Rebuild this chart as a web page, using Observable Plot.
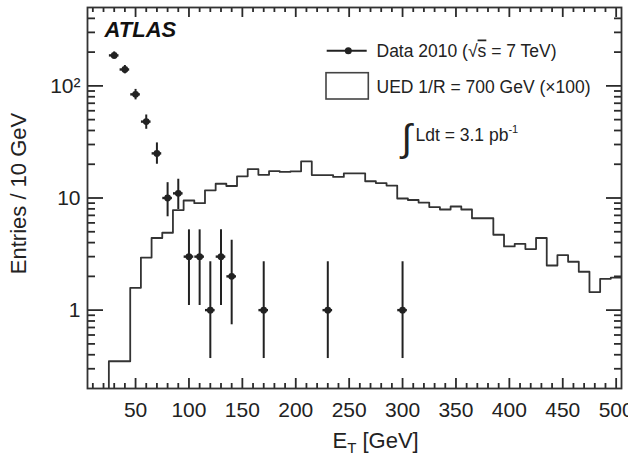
<!DOCTYPE html>
<html><head><meta charset="utf-8">
<script src="https://cdn.jsdelivr.net/npm/d3@7"></script>
<script src="https://cdn.jsdelivr.net/npm/@observablehq/plot@0.6"></script>
<style>body{margin:0;background:#fff;}</style>
</head><body><div id="chart"></div>
<script>
// ---- Data 2010 points ----
const dataET = [30, 40, 50, 60, 70, 80, 90, 100, 110, 120, 130, 140, 170, 230, 300];
const dataEntries = [187, 140, 84, 48, 25, 10, 11, 3, 3, 1, 3, 2, 1, 1, 1];
const dataErrLow = [173, 128, 75, 41, 20, 6.8, 7.9, 1.1, 1.1, 0.37, 1.1, 0.74, 0.37, 0.37, 0.37];
const dataErrHigh = [201, 152, 93, 55, 31, 13.7, 14.7, 5.2, 5.2, 2.7, 5.2, 4.2, 2.7, 2.7, 2.7];

// ---- UED 1/R = 700 GeV (x100) histogram, 10 GeV bins ----
const uedBinCenters = d3.range(30, 501, 10);
const uedEntries = [0.35, 0.35, 1.58, 2.94, 4.4, 4.9, 7.8, 9.5, 9.0, 11.7,
  13.4, 12.8, 15.6, 18.1, 16.1, 17.4, 17.1, 17.3, 21.2, 16.0,
  16.0, 15.4, 16.6, 16.6, 14.1, 13.6, 12.9, 9.9, 9.6, 9.1,
  8.3, 7.9, 8.4, 7.9, 6.6, 6.6, 4.7, 3.7, 3.9, 3.5,
  4.4, 2.5, 3.1, 2.7, 2.2, 1.45, 1.9, 1.95];
const binHalfWidth = 5;

// ---- Axes ----
const xDomain = [5, 505];
const yDomain = [0.2, 500];
const xMajorTicks = [50, 100, 150, 200, 250, 300, 350, 400, 450, 500];
const xMinorTicks = d3.range(10, 501, 10).filter(v => !xMajorTicks.includes(v));
const yMajorTicks = [1, 10, 100];
const yMinorTicks = [0.3, 0.4, 0.5, 0.6, 0.7, 0.8, 0.9, 2, 3, 4, 5, 6, 7, 8, 9, 20, 30, 40, 50, 60, 70, 80, 90, 200, 300, 400];
const yTickLabels = {1: "1", 10: "10", 100: "10²"};
const xTitle = "ET [GeV]";
const yTitle = "Entries / 10 GeV";
const atlasLabel = "ATLAS";
const legendData = "Data 2010 (√s = 7 TeV)";
const legendUED = "UED 1/R = 700 GeV (×100)";
const lumiText = "Ldt = 3.1 pb-1";

const points = dataET.map((x, i) => ({x, y: dataEntries[i], lo: dataErrLow[i], hi: dataErrHigh[i]}));
const hist = [{x: uedBinCenters[0] - binHalfWidth, y: yDomain[0]}];
uedBinCenters.forEach((c, i) => hist.push({x: c - binHalfWidth, y: uedEntries[i]}));
hist.push({x: uedBinCenters[uedBinCenters.length - 1] + binHalfWidth, y: uedEntries[uedEntries.length - 1]});

const ink = "#222";
const tickCol = "#2a2a2a";
const font = "'Liberation Sans', Arial, Helvetica, sans-serif";

const W = 628, H = 467, mL = 87, mR = 7, mT = 7, mB = 79;
const frameW = W - mL - mR, frameH = H - mT - mB;
// inward tick helper: a full-frame tick shrunk by insets to a short stub on one side
const tk = (len, side) => ({stroke: tickCol, strokeWidth: 1.8,
  insetTop: side === "bottom" ? frameH - len : 0,
  insetBottom: side === "top" ? frameH - len : 0,
  insetLeft: side === "right" ? frameW - len : 0,
  insetRight: side === "left" ? frameW - len : 0});

const chart = Plot.plot({
  width: W, height: H,
  marginLeft: mL, marginRight: mR, marginTop: mT, marginBottom: mB,
  style: {fontFamily: font, color: ink, background: "#fff"},
  x: {domain: xDomain},
  y: {type: "log", domain: yDomain},
  marks: [
    Plot.line(hist, {x: "x", y: "y", curve: "step-after", stroke: "#333", strokeWidth: 1.8, clip: true}),
    Plot.ruleX(points, {x: "x", y1: "lo", y2: "hi", stroke: ink, strokeWidth: 2, clip: true}),
    Plot.ruleY(points, {y: "y", x1: d => d.x - 4.5, x2: d => d.x + 4.5, stroke: ink, strokeWidth: 2.4}),
    Plot.dot(points, {x: "x", y: "y", r: 3.4, fill: ink, stroke: null}),
    // inward ticks on all four sides (ROOT style)
    Plot.tickX(xMajorTicks, {x: d => d, ...tk(10, "bottom")}),
    Plot.tickX(xMinorTicks, {x: d => d, ...tk(5, "bottom")}),
    Plot.tickX(xMajorTicks, {x: d => d, ...tk(10, "top")}),
    Plot.tickX(xMinorTicks, {x: d => d, ...tk(5, "top")}),
    Plot.tickY(yMajorTicks, {y: d => d, ...tk(16, "left")}),
    Plot.tickY(yMinorTicks, {y: d => d, ...tk(8, "left")}),
    Plot.tickY(yMajorTicks, {y: d => d, ...tk(15, "right")}),
    Plot.tickY(yMinorTicks, {y: d => d, ...tk(7, "right")}),
    // tick labels
    Plot.axisX({anchor: "bottom", ticks: xMajorTicks, tickSize: 0, tickPadding: 13.4, fontSize: 21, label: null, tickFormat: d => String(d)}),
    Plot.axisY({anchor: "left", ticks: yMajorTicks, tickSize: 0, tickPadding: 7, fontSize: 21, label: null, tickFormat: d => yTickLabels[d]}),
    // titles
    Plot.text([xTitle], {text: d => d, frameAnchor: "bottom-left", dx: 245, dy: 59, textAnchor: "start", lineAnchor: "bottom", fontSize: 22, fill: ink}),
    Plot.text([yTitle], {text: d => d, frameAnchor: "left", dx: -62, dy: -4.5, rotate: -90, textAnchor: "middle", lineAnchor: "bottom", fontSize: 22, fill: ink}),
    Plot.text([atlasLabel], {text: d => d, frameAnchor: "top-left", dx: 17, dy: 29.7, textAnchor: "start", lineAnchor: "bottom", fontSize: 22, fontWeight: "bold", fontStyle: "italic", fill: "#111"}),
    // legend texts
    Plot.text([legendData], {text: d => d, frameAnchor: "top-left", dx: 289, dy: 49, textAnchor: "start", lineAnchor: "bottom", fontSize: 17.5, fill: ink}),
    Plot.text([legendUED], {text: d => d, frameAnchor: "top-left", dx: 289, dy: 85.7, textAnchor: "start", lineAnchor: "bottom", fontSize: 17.5, fill: ink}),
    Plot.text(["∫"], {text: d => d, frameAnchor: "top-left", dx: 314, dy: 143, textAnchor: "start", lineAnchor: "bottom", fontSize: 38, fill: ink}),
    Plot.text([lumiText], {text: d => d, frameAnchor: "top-left", dx: 328, dy: 133.7, textAnchor: "start", lineAnchor: "bottom", fontSize: 17.5, fill: ink}),
    Plot.frame({stroke: "#333", strokeWidth: 1.8})
  ]
});
document.getElementById("chart").appendChild(chart);

const svg = d3.select(chart);
// rich text fix-ups
svg.selectAll("text").each(function() {
  const t = d3.select(this);
  const s = this.textContent;
  if (s === xTitle) {
    t.text(null);
    t.append("tspan").text("E");
    t.append("tspan").attr("font-size", 15).attr("dy", 5).text("T");
    t.append("tspan").attr("dy", -5).text(" [GeV]");
  } else if (s === legendData) {
    t.text(null);
    t.append("tspan").text("Data 2010 (√");
    t.append("tspan").style("text-decoration", "overline").text("s");
    t.append("tspan").text(" = 7 TeV)");
  } else if (s === lumiText) {
    t.text(null);
    t.append("tspan").text("Ldt = 3.1 pb");
    t.append("tspan").attr("font-size", 11).attr("dy", -8).text("-1");
  }
});
// legend glyphs (pixel layout)
const lg = svg.append("g");
lg.append("line").attr("x1", 326.7).attr("x2", 366.7).attr("y1", 50.7).attr("y2", 50.7).attr("stroke", ink).attr("stroke-width", 2);
lg.append("circle").attr("cx", 348.3).attr("cy", 50.7).attr("r", 3.5).attr("fill", ink);
lg.append("rect").attr("x", 326).attr("y", 72.7).attr("width", 42.3).attr("height", 26.3).attr("fill", "none").attr("stroke", "#444").attr("stroke-width", 1.6);
</script>
</body></html>
